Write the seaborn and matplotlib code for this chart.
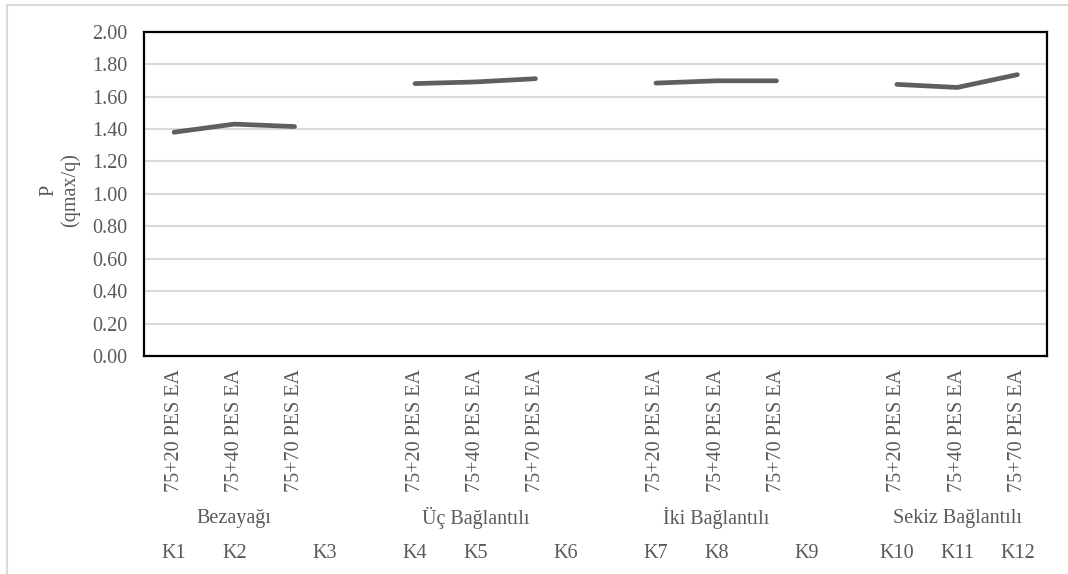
import matplotlib
matplotlib.use("Agg")
import matplotlib.pyplot as plt
from matplotlib.lines import Line2D
from matplotlib.ticker import FixedLocator, FuncFormatter
import seaborn as sns
import pandas as pd
import numpy as np

# Weave groups and blend labels
groups = ["Bezayağı", "Üç Bağlantılı", "İki Bağlantılı", "Sekiz Bağlantılı"]
blends = ["75+20 PES EA", "75+40 PES EA", "75+70 PES EA"]
sample_codes = ["K1", "K2", "K3", "K4", "K5", "K6", "K7", "K8", "K9", "K10", "K11", "K12"]

# P (qmax/q) per group, one value per blend
bezayagi = [1.38, 1.43, 1.415]
uc_baglantili = [1.68, 1.69, 1.71]
iki_baglantili = [1.683, 1.697, 1.697]
sekiz_baglantili = [1.675, 1.656, 1.735]

y_ticks = [0.0, 0.2, 0.4, 0.6, 0.8, 1.0, 1.2, 1.4, 1.6, 1.8, 2.0]

series = [bezayagi, uc_baglantili, iki_baglantili, sekiz_baglantili]

# each group takes three category slots plus one empty slot between groups
slot = len(blends) + 1
rows = []
for gi, (g, vals) in enumerate(zip(groups, series)):
    for bi, (b, v) in enumerate(zip(blends, vals)):
        rows.append({"group": g, "blend": b, "pos": gi * slot + bi, "P": v})
df = pd.DataFrame(rows)
n_slots = len(groups) * slot - 1

# slots used by the code row beneath the group names
code_slots = [0, 1, 2.5, 4, 5, 6.5, 8, 9, 10.5, 12, 13, 14]

sns.set_theme(style="white")
plt.rcParams["font.family"] = ["Liberation Serif", "DejaVu Serif"]
txt = "#595959"
fs = 14.5

fig = plt.figure(figsize=(10.68, 5.74), dpi=100)
ax = fig.add_axes([0.1348, 0.3798, 0.9808 - 0.1348, 0.9448 - 0.3798])

sns.lineplot(data=df, x="pos", y="P", hue="group", palette=["#5f5f5f"] * len(groups),
             estimator=None, legend=False, linewidth=3.4, ax=ax,
             solid_capstyle="round", solid_joinstyle="round")

ax.set_xlim(-0.5, n_slots - 0.5)
ax.set_ylim(0, 2.0)
ax.yaxis.set_major_locator(FixedLocator(y_ticks))
ax.yaxis.set_major_formatter(FuncFormatter(lambda v, _: f"{v:.2f}"))
ax.grid(axis="y", color="#d9d9d9", linewidth=1.5)
ax.set_axisbelow(True)

tick_pos = list(range(n_slots))
tick_lab = []
for p in tick_pos:
    hit = df.loc[df["pos"] == p, "blend"]
    tick_lab.append(hit.iloc[0] if len(hit) else "")
ax.set_xticks(tick_pos)
ax.set_xticklabels(tick_lab, rotation=90, va="top", ha="center")
ax.tick_params(axis="x", length=0, pad=9.5, labelsize=fs, labelcolor=txt)
ax.tick_params(axis="y", length=0, pad=12, labelsize=fs, labelcolor=txt)
ax.set_xlabel("")
ax.set_ylabel("")

for s in ax.spines.values():
    s.set_visible(True)
    s.set_color("black")
    s.set_linewidth(1.6)

# group names centred under each group's middle blend
trans = ax.get_xaxis_transform()
for gi, g in enumerate(groups):
    ax.text(gi * slot + 1, -0.5, g, transform=trans, ha="center", va="center",
            fontsize=fs, color=txt)
for k, p in zip(sample_codes, code_slots):
    ax.text(p, -0.608, k, transform=trans, ha="center", va="center",
            fontsize=fs, color=txt)

fig.text(60 / 1068, 1 - 190 / 574, "P\n(qmax/q)", rotation=90, ha="center", va="center",
         multialignment="center", fontsize=fs, color=txt, linespacing=1.1)

# light chart-area border
fig.add_artist(Line2D([7 / 1068, 1.0], [1 - 4.5 / 574] * 2, transform=fig.transFigure,
                      color="#d9d9d9", linewidth=1.5))
fig.add_artist(Line2D([7 / 1068] * 2, [0, 1 - 4.5 / 574], transform=fig.transFigure,
                      color="#d9d9d9", linewidth=1.5))

fig.savefig("out.png", dpi=100)
